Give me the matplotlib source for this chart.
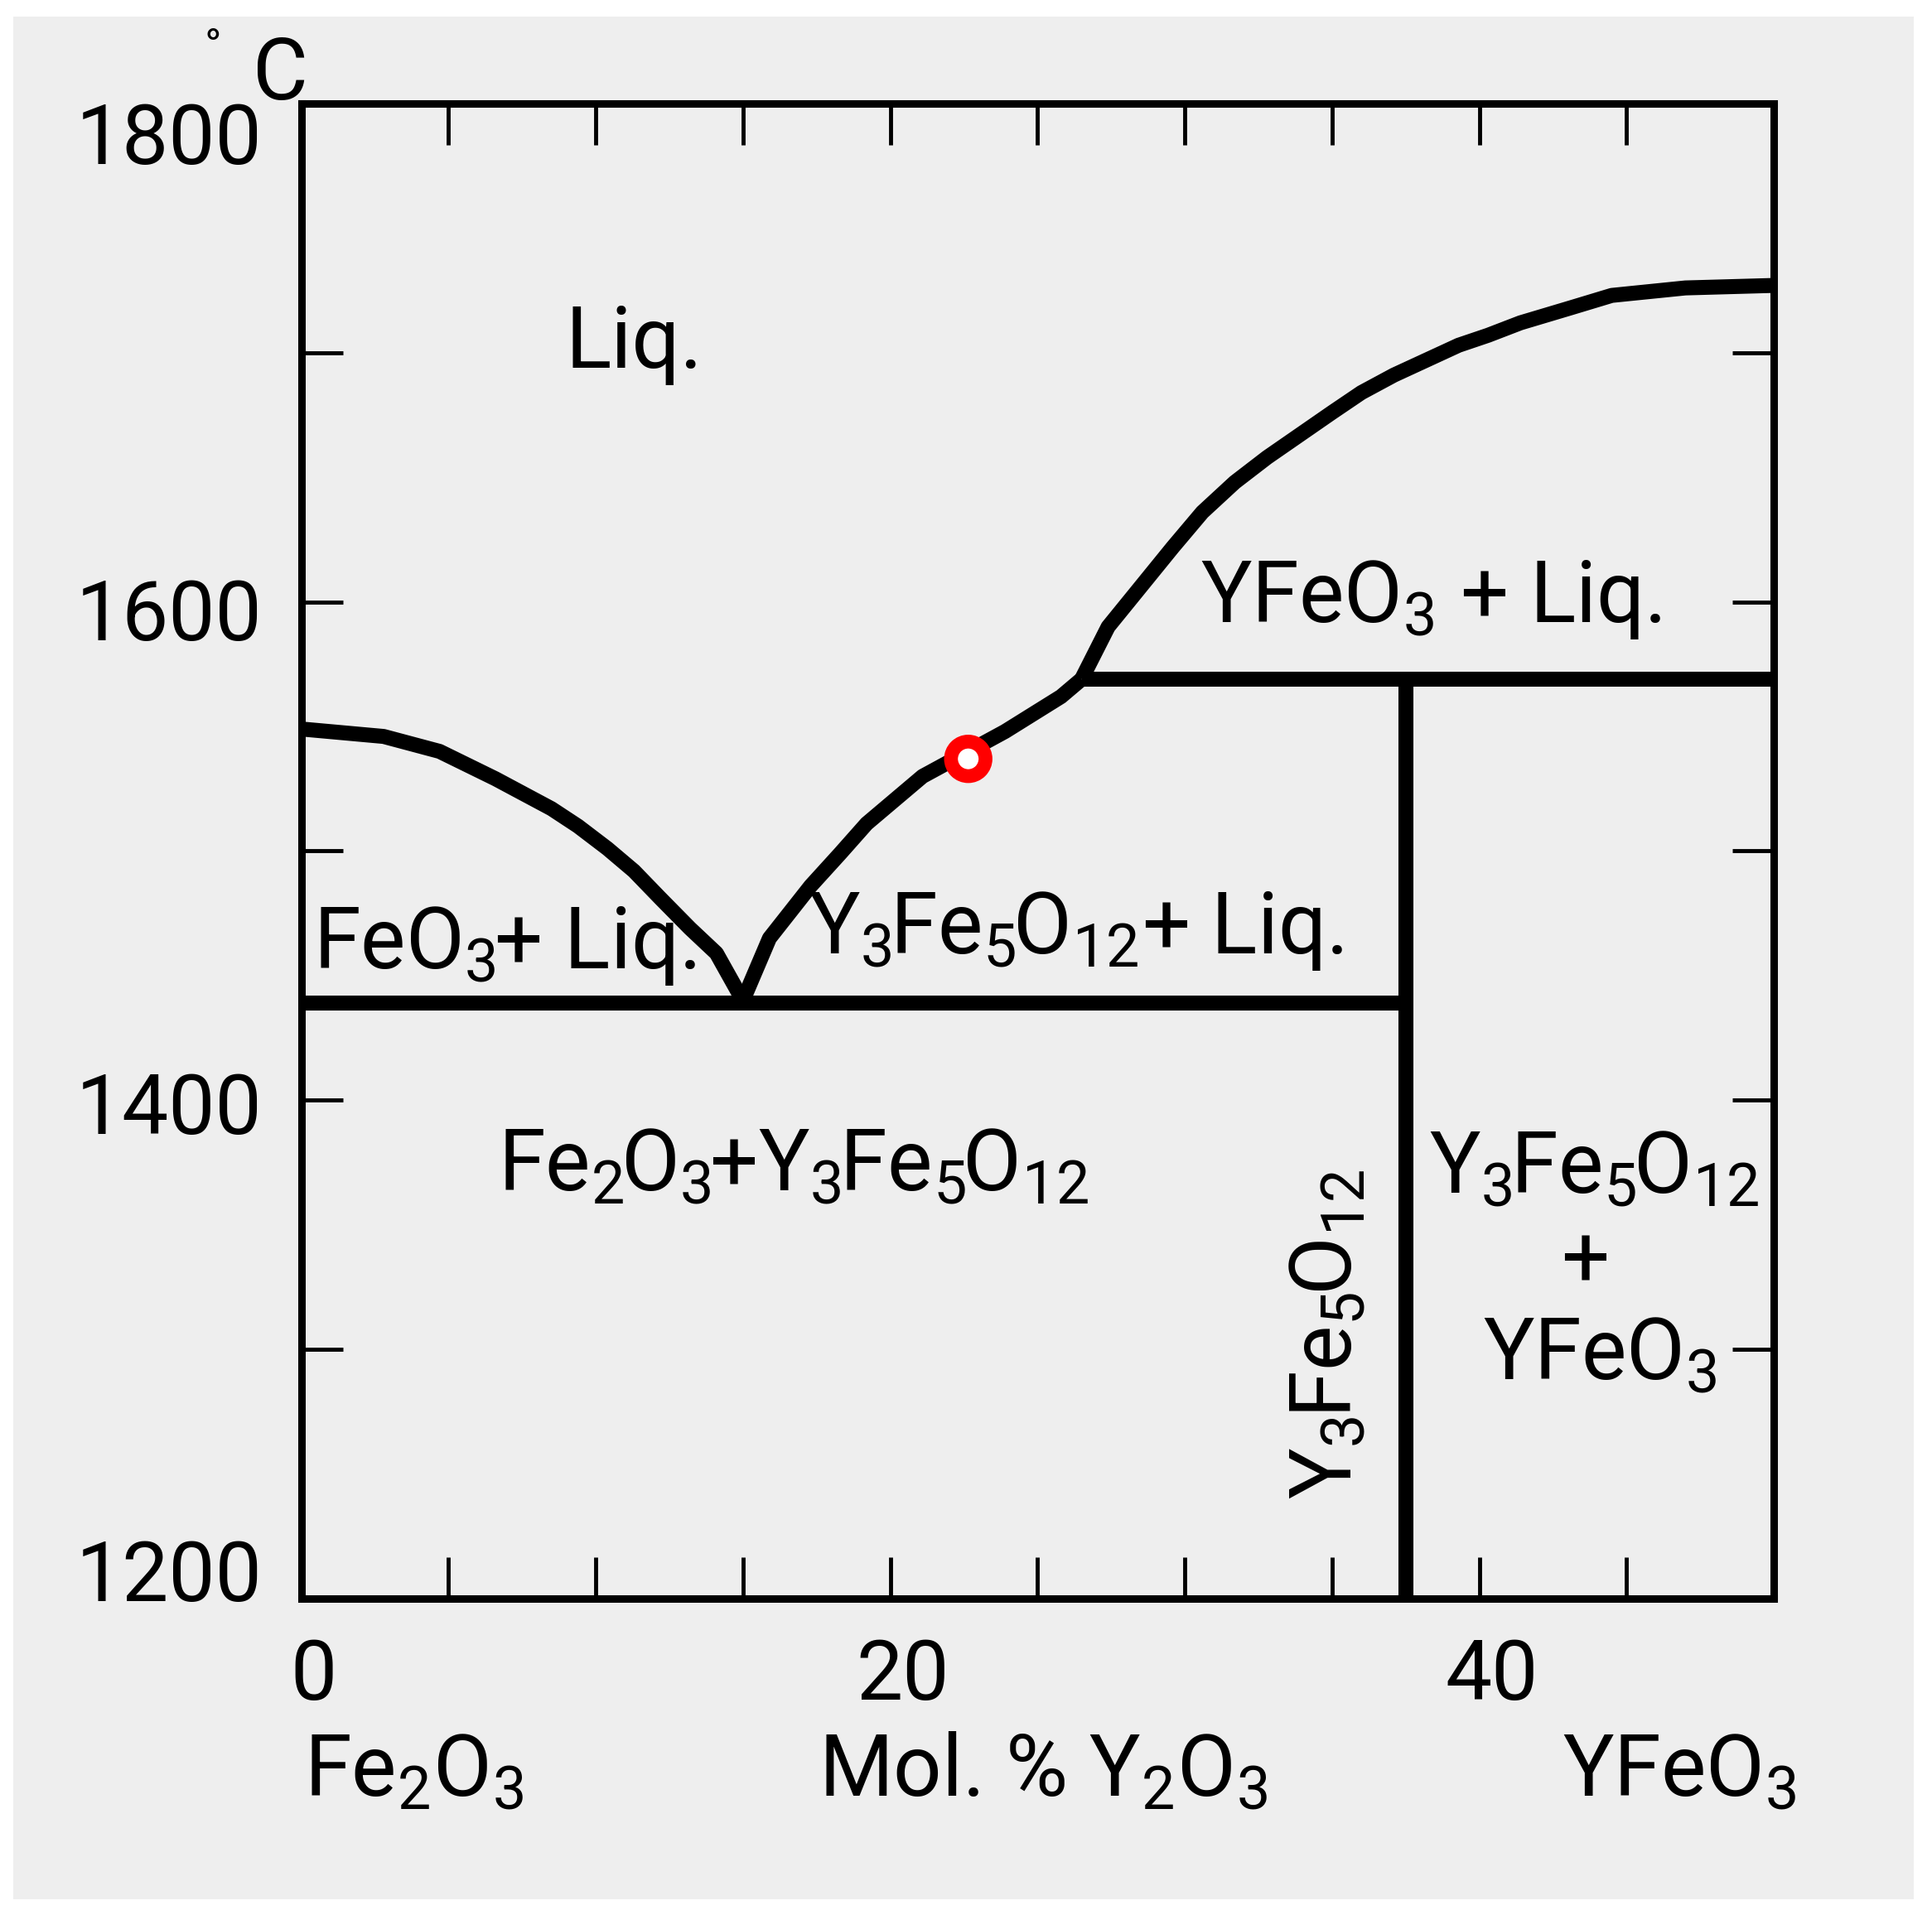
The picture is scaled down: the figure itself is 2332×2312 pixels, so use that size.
import matplotlib
matplotlib.use('Agg')
import matplotlib.pyplot as plt
import matplotlib.patheffects as pe
from matplotlib.patches import Rectangle
from matplotlib.transforms import ScaledTranslation

plt.rcParams['font.family'] = ['Roboto', 'DejaVu Sans']
plt.rcParams['mathtext.fontset'] = 'custom'
plt.rcParams['mathtext.rm'] = 'Roboto'
plt.rcParams['mathtext.it'] = 'Roboto'
plt.rcParams['mathtext.bf'] = 'Roboto:bold'

# axis ticks
x_ticks = [0, 5, 10, 15, 20, 25, 30, 35, 40, 45, 50]
x_tick_labels = ['0', '', '', '', '20', '', '', '', '40', '', '']
t_ticks = [1200, 1300, 1400, 1500, 1600, 1700, 1800]
t_tick_labels = ['1200', '', '1400', '', '1600', '', '1800']

# liquidus of Fe2O3 (mol % Y2O3, deg C)
fe2o3_liq_x = [0, 2.8, 4.7, 6.6, 8.5, 9.4, 10.4, 11.3, 12.2, 13.2, 14.1, 15.0]
fe2o3_liq_t = [1549, 1546, 1540, 1529, 1517, 1510, 1501, 1492, 1481, 1469, 1459, 1440]

# liquidus of Y3Fe5O12
garnet_liq_x = [15.0, 15.9, 17.3, 18.3, 19.2, 20.2, 21.1, 22.5, 23.9, 25.8, 26.5]
garnet_liq_t = [1440, 1465, 1486, 1499, 1511, 1521, 1530, 1539, 1548, 1562, 1569]

# liquidus of YFeO3
yfeo3_liq_x = [26.5, 27.4, 28.5, 29.6, 30.6, 31.7, 32.8, 33.9, 35.0, 36.0,
               37.1, 38.2, 39.3, 40.3, 41.4, 43.1, 44.5, 47.0, 50.0]
yfeo3_liq_t = [1569, 1590, 1606, 1622, 1636, 1648, 1658, 1667, 1676, 1684,
               1691, 1697, 1703, 1707, 1712, 1718, 1723, 1726, 1727]

# invariant lines
eutectic_x = [0, 37.5]
eutectic_t = [1439, 1439]
peritectic_x = [26.5, 50]
peritectic_t = [1569, 1569]
garnet_x = [37.5, 37.5]
garnet_t = [1200, 1569]

# highlighted point
mark_x = [22.65]
mark_t = [1537]

W, H = 2332, 2312
fig = plt.figure(figsize=(W / 100, H / 100), dpi=100, facecolor='white')
fig.patches.append(Rectangle((16 / W, 1 - 2293 / H), (2310 - 16) / W, (2293 - 20) / H,
                             transform=fig.transFigure, facecolor='#eeeeee',
                             edgecolor='none', zorder=-10))
ax = fig.add_axes([363.5 / W, 1 - 1930 / H, (2141 - 363.5) / W, (1930 - 125) / H])
ax.set_facecolor('#eeeeee')

lw = 13
for xs, ts in [(fe2o3_liq_x, fe2o3_liq_t), (garnet_liq_x, garnet_liq_t),
               (yfeo3_liq_x, yfeo3_liq_t), (eutectic_x, eutectic_t),
               (peritectic_x, peritectic_t), (garnet_x, garnet_t)]:
    ax.plot(xs, ts, color='black', lw=lw, solid_capstyle='butt',
            solid_joinstyle='round', zorder=3)

ax.plot(mark_x, mark_t, 'o', ms=30, mew=12, mec='#ff0000', mfc='white', zorder=5,
        path_effects=[pe.SimplePatchShadow(offset=(3, -4), shadow_rgbFace='gray', alpha=0.35),
                      pe.Normal()])

ax.set_xlim(0, 50)
ax.set_ylim(1200, 1800)
ax.set_xticks(x_ticks, x_tick_labels)
ax.set_yticks(t_ticks, t_tick_labels)
ax.tick_params(direction='in', length=36, width=3.5, top=True, right=True,
               labelsize=72, pad=34, color='black')
for s in ax.spines.values():
    s.set_linewidth(6.5)

# nudge tick labels like the original
for lab in ax.get_xticklabels():
    lab.set_transform(lab.get_transform() + ScaledTranslation(0.15, 0, fig.dpi_scale_trans))
shifts = {'1800': -0.36, '1600': -0.09, '1400': -0.03, '1200': 0.34}
for lab in ax.get_yticklabels():
    dy = shifts.get(lab.get_text(), 0)
    lab.set_transform(lab.get_transform() + ScaledTranslation(0, dy, fig.dpi_scale_trans))

fs = 74
k = r'\hspace{-0.08}'
ax.text(-3.0, 1822, '°', fontsize=40, ha='center', va='center', clip_on=False)
ax.text(-0.7, 1811, 'C', fontsize=fs, ha='center', va='center', clip_on=False)

ax.text(11.3, 1694, 'Liq.', fontsize=fs, ha='center', va='baseline')
ax.text(38.35, 1592, r'YFeO$_3$ + Liq.', fontsize=fs, ha='center', va='baseline')
ax.text(6.9, 1453, r'FeO$_3' + k + r'$+ Liq.', fontsize=fs, ha='center', va='baseline')
ax.text(26.3, 1459, r'Y$_3' + k + r'$Fe$_5' + k + r'$O$_{12}$+ Liq.', fontsize=fs,
        ha='center', va='baseline')
ax.text(16.7, 1364, r'Fe$_2' + k + r'$O$_3' + k + r'$+Y$_3' + k + r'$Fe$_5' + k + r'$O$_{12}$',
        fontsize=fs, ha='center', va='baseline')
ax.text(34.85, 1306, r'Y$_3' + k + r'$Fe$_5' + k + r'$O$_{12}$', fontsize=fs,
        ha='center', va='center', rotation=90)
ax.text(43.9, 1363, r'Y$_3' + k + r'$Fe$_5' + k + r'$O$_{12}$', fontsize=fs,
        ha='center', va='baseline')
ax.text(43.6, 1325, '+', fontsize=fs, ha='center', va='baseline')
ax.text(44.1, 1288, r'YFeO$_3$', fontsize=fs, ha='center', va='baseline')

ax.text(0.1, 1121, r'Fe$_2$O$_3$', fontsize=fs, ha='left', va='baseline', clip_on=False)
ax.text(25.2, 1121, r'Mol. % Y$_2$O$_3$', fontsize=fs, ha='center', va='baseline',
        clip_on=False)
ax.text(46.8, 1121, r'YFeO$_3$', fontsize=fs, ha='center', va='baseline', clip_on=False)

fig.savefig('out.png', dpi=100, facecolor='white')
